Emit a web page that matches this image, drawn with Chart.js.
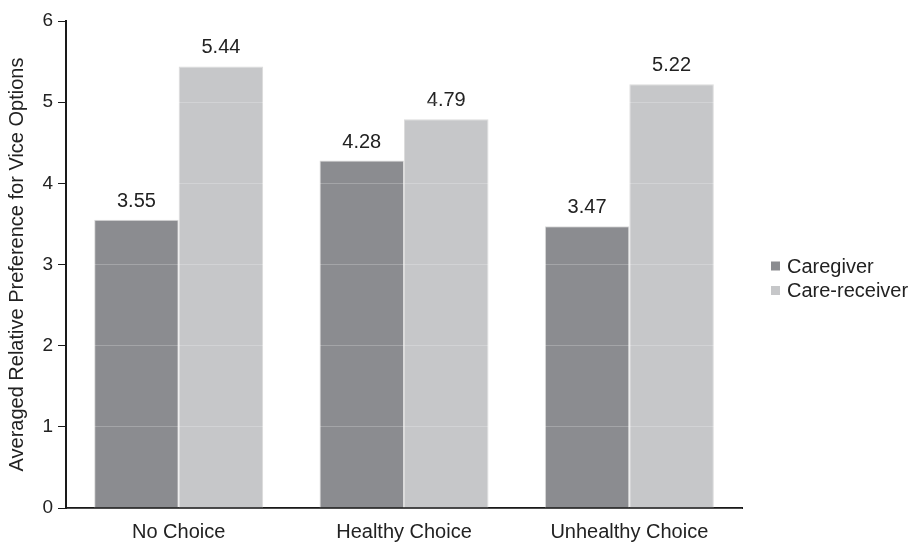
<!DOCTYPE html>
<html>
<head>
<meta charset="utf-8">
<script src="https://cdn.jsdelivr.net/npm/chart.js@4.4.1/dist/chart.umd.min.js"></script>
<style>
html,body{margin:0;padding:0;background:#fff;}
#wrap{width:909px;height:542px;}
</style>
</head>
<body>
<div id="wrap"><canvas id="c" width="909" height="542"></canvas></div>
<script>
const categories = ["No Choice", "Healthy Choice", "Unhealthy Choice"];
const caregiver = [3.55, 4.28, 3.47];
const careReceiver = [5.44, 4.79, 5.22];
const seriesNames = ["Caregiver", "Care-receiver"];
const yTicks = [0, 1, 2, 3, 4, 5, 6];
const yTitle = "Averaged Relative Preference for Vice Options";

const FONT = "'Liberation Sans', Arial, sans-serif";
const colors = ["#8b8c90", "#c6c7c9"];

const valueLabels = {
  id: 'valueLabels',
  afterDatasetsDraw(chart) {
    const ctx = chart.ctx;
    ctx.save();
    ctx.font = "20px " + FONT;
    ctx.fillStyle = "#222";
    ctx.textAlign = "center";
    ctx.textBaseline = "alphabetic";
    chart.data.datasets.forEach((ds, i) => {
      chart.getDatasetMeta(i).data.forEach((bar, j) => {
        ctx.fillText(ds.data[j].toFixed(2), bar.x, bar.y - 13);
      });
    });
    ctx.restore();
  }
};

const sideLegend = {
  id: 'sideLegend',
  afterDraw(chart) {
    const ctx = chart.ctx;
    ctx.save();
    ctx.font = "20px " + FONT;
    ctx.textBaseline = "middle";
    const x0 = 771, y0 = 266, dy = 24.5;
    chart.data.datasets.forEach((ds, i) => {
      ctx.fillStyle = ds.backgroundColor;
      ctx.fillRect(x0, y0 + i * dy - 4.5, 9, 9);
      ctx.fillStyle = "#222";
      ctx.fillText(ds.label, x0 + 16, y0 + i * dy + 1);
    });
    ctx.restore();
  }
};

new Chart(document.getElementById('c'), {
  type: 'bar',
  data: {
    labels: categories,
    datasets: [
      { label: seriesNames[0], data: caregiver, backgroundColor: colors[0], borderColor: "#dcdcdc", borderWidth: 1 },
      { label: seriesNames[1], data: careReceiver, backgroundColor: colors[1], borderColor: "#dcdcdc", borderWidth: 1 }
    ]
  },
  options: {
    responsive: false,
    animation: false,
    devicePixelRatio: 1,
    layout: { padding: { top: 21, right: 167, left: 0, bottom: 0 } },
    datasets: { bar: { categoryPercentage: 0.75, barPercentage: 1.0 } },
    plugins: {
      legend: { display: false },
      tooltip: { enabled: false }
    },
    scales: {
      x: {
        grid: { display: false, drawTicks: false },
        border: { display: true, color: "#1a1a1a", width: 2 },
        ticks: { color: "#222", font: { family: FONT, size: 20 }, padding: 12, maxRotation: 0 },
        afterFit(s) { s.height = 34; }
      },
      y: {
        min: 0, max: 6,
        afterBuildTicks(s) { s.ticks = yTicks.map(v => ({ value: v })); },
        grid: { z: 1, color: "rgba(255,255,255,0.22)", lineWidth: 1, drawTicks: true, tickLength: 8, tickColor: "#1a1a1a", tickWidth: 1 },
        border: { display: true, color: "#1a1a1a", width: 2, z: 2 },
        ticks: { color: "#222", font: { family: FONT, size: 19 }, padding: 5 },
        title: { display: true, text: yTitle, color: "#222", font: { family: FONT, size: 20 }, padding: { top: 5, bottom: 2 } },
        afterFit(s) { s.width = 66; }
      }
    }
  },
  plugins: [valueLabels, sideLegend]
});
</script>
</body>
</html>
